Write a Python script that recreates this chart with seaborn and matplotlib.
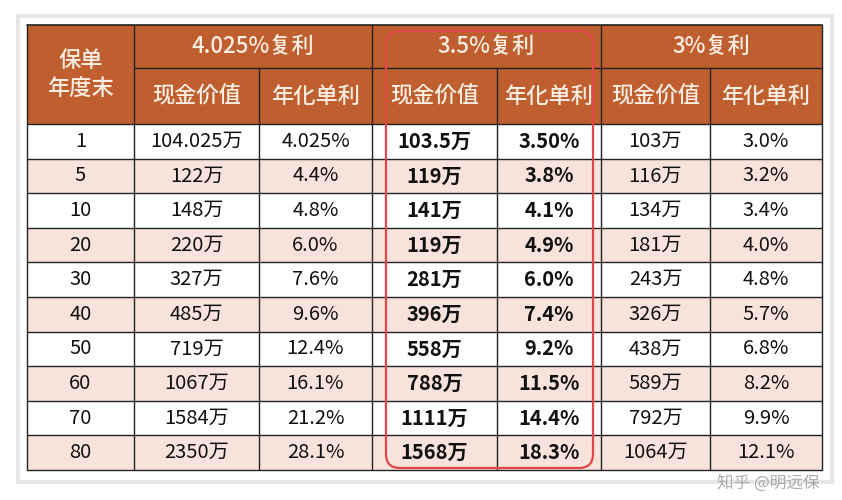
import matplotlib
matplotlib.use("Agg")
import matplotlib.pyplot as plt
from matplotlib.patches import Rectangle, FancyBboxPatch
import numpy as np
import seaborn as sns

sns.set_theme(style="white")
plt.rcParams["font.family"] = ["Noto Sans CJK SC", "Noto Sans CJK JP", "DejaVu Sans"]

years = [1, 5, 10, 20, 30, 40, 50, 60, 70, 80]
cv_4025 = ["104.025万", "122万", "148万", "220万", "327万", "485万", "719万", "1067万", "1584万", "2350万"]
rate_4025 = ["4.025%", "4.4%", "4.8%", "6.0%", "7.6%", "9.6%", "12.4%", "16.1%", "21.2%", "28.1%"]
cv_35 = ["103.5万", "119万", "141万", "119万", "281万", "396万", "558万", "788万", "1111万", "1568万"]
rate_35 = ["3.50%", "3.8%", "4.1%", "4.9%", "6.0%", "7.4%", "9.2%", "11.5%", "14.4%", "18.3%"]
cv_3 = ["103万", "116万", "134万", "181万", "243万", "326万", "438万", "589万", "792万", "1064万"]
rate_3 = ["3.0%", "3.2%", "3.4%", "4.0%", "4.8%", "5.7%", "6.8%", "8.2%", "9.9%", "12.1%"]
groups = ["4.025%复利", "3.5%复利", "3%复利"]
sub_headers = ["现金价值", "年化单利"]
corner = "保单\n年度末"

W, H = 842, 500
xb = [27, 134, 259, 372, 497, 601, 710, 822]
y_top, y_mid, y_body, y_bot = 25, 68, 124, 470
n = len(years)
rh = (y_bot - y_body) / n

fig = plt.figure(figsize=(W / 100, H / 100), dpi=100)
fig.patch.set_facecolor("white")

body = fig.add_axes([xb[0] / W, 1 - y_bot / H, (xb[-1] - xb[0]) / W, (y_bot - y_body) / H])
mat = np.array([[i % 2] * (xb[-1] - xb[0]) for i in range(n)])
sns.heatmap(mat, ax=body, cmap=matplotlib.colors.ListedColormap(["#ffffff", "#f8e3dc"]),
            cbar=False, xticklabels=False, yticklabels=False, vmin=0, vmax=1)
body.set_axis_off()

ov = fig.add_axes([0, 0, 1, 1])
ov.set_xlim(0, W)
ov.set_ylim(H, 0)
ov.set_axis_off()
ov.patch.set_alpha(0)

ov.add_patch(Rectangle((18, 16), 814, 466, facecolor="none", edgecolor="#e6e6e6", lw=3, zorder=0))
hc = "#bf5f2f"
ov.add_patch(Rectangle((xb[0], y_top), xb[-1] - xb[0], y_body - y_top, facecolor=hc, edgecolor="none", zorder=1))
tc = "#fbeee3"
hf = dict(ha="center", va="center", color=tc, fontsize=16, fontweight="medium", zorder=3)
ov.text((xb[0] + xb[1]) / 2, (y_top + y_body) / 2, corner, linespacing=1.3, **hf)
for g in range(3):
    a, b = xb[1 + 2 * g], xb[3 + 2 * g]
    ov.text((a + b) / 2, (y_top + y_mid) / 2, groups[g], **hf)
    for s in range(2):
        c0, c1 = xb[1 + 2 * g + s], xb[2 + 2 * g + s]
        ov.text((c0 + c1) / 2, (y_mid + y_body) / 2, sub_headers[s], **hf)

lc = "#222222"
ov.plot([xb[0], xb[-1]], [y_top, y_top], color=lc, lw=1.2, zorder=2)
ov.plot([xb[1], xb[-1]], [y_mid, y_mid], color=lc, lw=1, zorder=2)
for i in range(n + 1):
    y = y_body + i * rh
    ov.plot([xb[0], xb[-1]], [y, y], color=lc, lw=1, zorder=2)
for j, x in enumerate(xb):
    if j in (0, 1, 3, 5, 7):
        ov.plot([x, x], [y_top, y_bot], color=lc, lw=1, zorder=2)
    else:
        ov.plot([x, x], [y_mid, y_bot], color=lc, lw=1, zorder=2)

cols = [[str(v) for v in years], cv_4025, rate_4025, cv_35, rate_35, cv_3, rate_3]
for j, col in enumerate(cols):
    cx = (xb[j] + xb[j + 1]) / 2
    for i, t in enumerate(col):
        cy = y_body + (i + 0.5) * rh
        ov.text(cx, cy, t, ha="center", va="center", fontsize=14.5, color="#111111",
                fontweight="bold" if j in (3, 4) else "normal", zorder=3)

ov.add_patch(FancyBboxPatch((386, 31), 207, 437, boxstyle="round,pad=0,rounding_size=14",
                            facecolor="none", edgecolor="#e0464a", lw=1.6, zorder=4))
ov.text(768, 483, "知乎 @明远保", ha="center", va="center", fontsize=12, color="#999999", alpha=0.8, zorder=5)

fig.savefig("out.png", dpi=100, facecolor="white")
